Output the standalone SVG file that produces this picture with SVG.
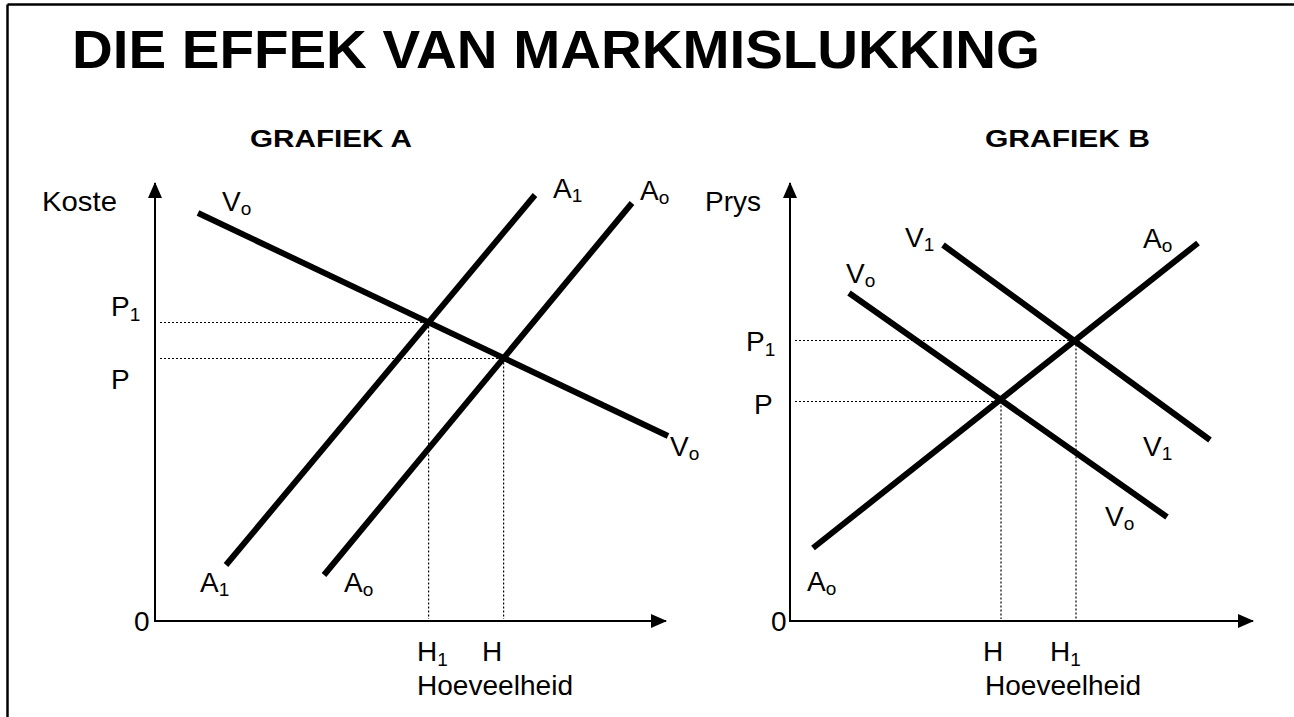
<svg xmlns="http://www.w3.org/2000/svg" width="1294" height="717" viewBox="0 0 1294 717">
<style>
text{font-family:"Liberation Sans",Arial,sans-serif;fill:#000}
.t{font-size:53px;font-weight:bold}
.g{font-size:24px;font-weight:bold}
.l{font-size:28px}
.s{font-size:19px}
.axis{stroke:#000;stroke-width:2;fill:none}
.curve{stroke:#000;stroke-width:6;fill:none}
.dot{stroke:#000;stroke-width:1.2;stroke-dasharray:2 2;fill:none}
</style>
<defs>
<marker id="ah" viewBox="0 0 16 14" refX="15" refY="7" markerWidth="16" markerHeight="14" markerUnits="userSpaceOnUse" orient="auto">
<path d="M0,0 L16,7 L0,14 Z" fill="#000"/>
</marker>
</defs>
<rect width="1294" height="717" fill="#fff"/>
<g id="frame">
<line x1="7.5" y1="4.5" x2="1294" y2="4.5" stroke="#000" stroke-width="2.5"/>
<line x1="7.5" y1="4.5" x2="7.5" y2="717" stroke="#000" stroke-width="2.5"/>
</g>
<g id="title"><text class="t" x="72" y="68" textLength="968" lengthAdjust="spacingAndGlyphs">DIE EFFEK VAN MARKMISLUKKING</text></g>
<g id="graphA">
<text class="g" x="250" y="147" textLength="162" lengthAdjust="spacingAndGlyphs">GRAFIEK  A</text>
<g id="axesA">
<line class="axis" x1="155" y1="621" x2="155" y2="183" marker-end="url(#ah)"/>
<line class="axis" x1="154" y1="621" x2="666" y2="621" marker-end="url(#ah)"/>
</g>
<g id="guidesA">
<line class="dot" x1="160" y1="322.5" x2="428.6" y2="322.5"/>
<line class="dot" x1="160" y1="358.5" x2="503.6" y2="358.5"/>
<line class="dot" x1="428.6" y1="322.5" x2="428.6" y2="619"/>
<line class="dot" x1="503.6" y1="358.5" x2="503.6" y2="619"/>
</g>
<g id="curvesA">
<line id="A_Vo" class="curve" x1="198" y1="213" x2="668" y2="436"/>
<line id="A_A1" class="curve" x1="226" y1="565" x2="535" y2="195"/>
<line id="A_Ao" class="curve" x1="324" y1="575" x2="632" y2="203"/>
</g>
<g id="labelsA">
<text class="l" x="42" y="211" textLength="75" lengthAdjust="spacingAndGlyphs">Koste</text>
<text class="l" x="222" y="211">V<tspan class="s" dy="4">o</tspan></text>
<text class="l" x="553" y="198">A<tspan class="s" dy="4">1</tspan></text>
<text class="l" x="640" y="200">A<tspan class="s" dy="4">o</tspan></text>
<text class="l" x="111" y="316">P<tspan class="s" dy="5">1</tspan></text>
<text class="l" x="111" y="389">P</text>
<text class="l" x="670" y="456">V<tspan class="s" dy="4">o</tspan></text>
<text class="l" x="200" y="592">A<tspan class="s" dy="4">1</tspan></text>
<text class="l" x="344" y="592">A<tspan class="s" dy="4">o</tspan></text>
<text class="l" x="134" y="631">0</text>
<text class="l" x="417" y="661">H<tspan class="s" dy="5">1</tspan></text>
<text class="l" x="482" y="661">H</text>
<text class="l" x="417" y="695" textLength="156" lengthAdjust="spacingAndGlyphs">Hoeveelheid</text>
</g>
</g>
<g id="graphB">
<text class="g" x="985" y="147" textLength="165" lengthAdjust="spacingAndGlyphs">GRAFIEK  B</text>
<g id="axesB">
<line class="axis" x1="790" y1="621" x2="790" y2="183" marker-end="url(#ah)"/>
<line class="axis" x1="789" y1="621" x2="1253" y2="621" marker-end="url(#ah)"/>
</g>
<g id="guidesB">
<line class="dot" x1="795" y1="340.5" x2="1076" y2="340.5"/>
<line class="dot" x1="795" y1="401.5" x2="1001" y2="401.5"/>
<line class="dot" x1="1001" y1="401.5" x2="1001" y2="619"/>
<line class="dot" x1="1076" y1="340.5" x2="1076" y2="619"/>
</g>
<g id="curvesB">
<line id="B_Ao" class="curve" x1="813" y1="548" x2="1198" y2="243"/>
<line id="B_Vo" class="curve" x1="849" y1="293" x2="1167" y2="517"/>
<line id="B_V1" class="curve" x1="943" y1="245" x2="1210" y2="440"/>
</g>
<g id="labelsB">
<text class="l" x="705" y="211">Prys</text>
<text class="l" x="905" y="247">V<tspan class="s" dy="4">1</tspan></text>
<text class="l" x="846" y="283">V<tspan class="s" dy="4">o</tspan></text>
<text class="l" x="1143" y="248">A<tspan class="s" dy="4">o</tspan></text>
<text class="l" x="746" y="351">P<tspan class="s" dy="5">1</tspan></text>
<text class="l" x="754" y="414">P</text>
<text class="l" x="1143" y="456">V<tspan class="s" dy="4">1</tspan></text>
<text class="l" x="1105" y="526">V<tspan class="s" dy="4">o</tspan></text>
<text class="l" x="807" y="591">A<tspan class="s" dy="4">o</tspan></text>
<text class="l" x="771" y="631">0</text>
<text class="l" x="983" y="661">H</text>
<text class="l" x="1050" y="661">H<tspan class="s" dy="5">1</tspan></text>
<text class="l" x="985" y="695" textLength="156" lengthAdjust="spacingAndGlyphs">Hoeveelheid</text>
</g>
</g>
</svg>
